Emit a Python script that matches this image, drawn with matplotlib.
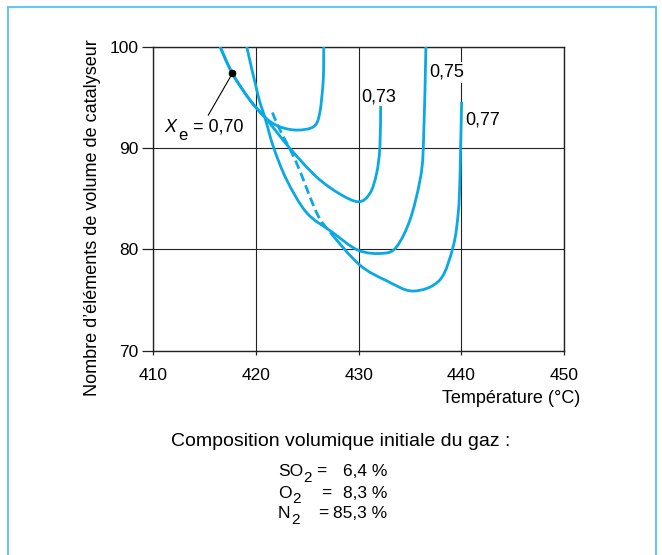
import numpy as np
import matplotlib
matplotlib.use("Agg")
import matplotlib.pyplot as plt
from matplotlib.path import Path
from matplotlib.patches import PathPatch, Rectangle

plt.rcParams['font.family'] = ['Liberation Sans', 'DejaVu Sans']

W, H, DPI = 662, 555, 100
BLUE = '#0aa8e4'
FRAME = '#5cc8f0'
FS_TICK = 12.5
FS = 13
FS_GAS = 12.5

# Catalyst volume (number of elements) versus temperature, per conversion Xe
temp_070 = [416.5, 417.7, 419.4, 420.9, 422.3, 424.0, 425.6, 426.2, 426.55, 426.6]
cat_070 = [100.0, 97.36, 94.75, 93.0, 92.1, 91.77, 92.1, 93.4, 96.7, 100.0]

temp_073 = [416.5, 417.7, 419.4, 420.9, 423.31, 425.91, 428.18, 430.0, 431.1, 431.75,
            432.07, 432.14]
cat_073 = [100.0, 97.36, 94.75, 93.0, 89.96, 87.13, 85.45, 84.69, 85.52, 87.5,
           90.1, 94.14]

temp_075 = [419.1, 420.2, 420.9, 421.7, 423.0, 424.94, 427.37, 429.96, 432.4, 433.7, 435.0,
            435.97, 436.3, 436.55]
cat_075 = [100.0, 95.2, 92.9, 90.1, 86.83, 83.6, 81.73, 79.9, 79.6, 80.25, 82.9,
           86.8, 90.1, 100.0]

# Xe = 0.77: extrapolated part (dashed) then computed part (solid)
temp_077_ext = [421.6, 422.34, 423.96, 425.91]
cat_077_ext = [93.5, 91.77, 88.5, 83.6]
temp_077 = [427.25, 430.1, 432.7, 435.3, 437.9, 439.2, 439.7, 439.86, 439.93, 440.03]
cat_077 = [81.65, 78.45, 76.9, 75.87, 76.96, 80.25, 83.6, 86.8, 90.1, 94.56]

# Point pointed at by the Xe = 0.70 label
marker_070 = (417.7, 97.36)

x_ticks = [410, 420, 430, 440, 450]
y_ticks = [70, 80, 90, 100]

gas = ['SO', 'O', 'N']
gas_pct = ['6,4 %', '8,3 %', '85,3 %']


def bezier_nodes(xs, ys):
    """Catmull-Rom curve through the nodes, expressed as cubic Bezier segments."""
    p = np.column_stack([xs, ys]).astype(float)
    ext = np.vstack([p[0], p, p[-1]])
    segs = []
    for i in range(len(p) - 1):
        p0, p1, p2, p3 = ext[i], ext[i + 1], ext[i + 2], ext[i + 3]
        segs.append((p1, p1 + (p2 - p0) / 6.0, p2 - (p3 - p1) / 6.0, p2))
    return segs


def segs_to_path(segs):
    verts = [segs[0][0]]
    codes = [Path.MOVETO]
    for s in segs:
        verts += [s[1], s[2], s[3]]
        codes += [Path.CURVE4] * 3
    return Path(np.array(verts), codes)


def draw_curve(ax, segs, ls='-'):
    patch = PathPatch(segs_to_path(segs), fill=False, edgecolor=BLUE, lw=2.0,
                      linestyle=ls, capstyle='butt', joinstyle='round',
                      transform=ax.transData, zorder=3)
    ax.add_patch(patch)


fig = plt.figure(figsize=(W / DPI, H / DPI), dpi=DPI)

# Outer light-blue frame
fig.add_artist(Rectangle((8.3 / W, -0.05), (655.5 - 8.3) / W, 1 - 6.7 / H + 0.05,
                         transform=fig.transFigure, fill=False, ec=FRAME, lw=1.4))

ax = fig.add_axes([153.3 / W, 1 - 350.5 / H, (564 - 153.3) / W, (350.5 - 46.7) / H])
ax.set_xlim(410, 450)
ax.set_ylim(70, 100)
ax.set_xticks(x_ticks)
ax.set_yticks(y_ticks)
ax.set_xticklabels([str(v) for v in x_ticks])
ax.set_yticklabels([str(v) for v in y_ticks])
ax.grid(True, color='#222222', lw=0.8, zorder=1)
ax.set_axisbelow(True)
for s in ax.spines.values():
    s.set_linewidth(1.0)
    s.set_color('#222222')
ax.tick_params(axis='y', direction='out', length=7.7, width=0.9, pad=3.0,
               labelsize=FS_TICK, color='#222222')
ax.tick_params(axis='x', direction='out', length=3.0, width=0.9, pad=9.6,
               labelsize=FS_TICK, color='#222222')

draw_curve(ax, bezier_nodes(temp_070, cat_070))
draw_curve(ax, bezier_nodes(temp_073, cat_073))
draw_curve(ax, bezier_nodes(temp_075, cat_075))
segs77 = bezier_nodes(temp_077_ext + temp_077, cat_077_ext + cat_077)
n_ext = len(temp_077_ext)
draw_curve(ax, segs77[:n_ext], ls=(0, (3.2, 1.6)))
draw_curve(ax, segs77[n_ext:])

# Curve labels
ax.text(430.25, 94.56, '0,73', fontsize=FS, ha='left', va='baseline', zorder=4)
ax.text(436.9, 97.03, '0,75', fontsize=FS, ha='left', va='baseline', zorder=4,
        bbox=dict(boxstyle='square,pad=0.12', fc='white', ec='none'))
ax.text(440.4, 92.33, '0,77', fontsize=FS, ha='left', va='baseline', zorder=4)

# Xe = 0,70 label with leader line to the marker
ax.plot([marker_070[0], 415.36], [marker_070[1], 93.25], color='black', lw=0.8, zorder=4)
ax.plot([marker_070[0]], [marker_070[1]], 'o', color='black', ms=4.5, zorder=5)
ax.text(411.1, 91.6, 'X', fontsize=FS, style='italic', ha='left', va='baseline', zorder=4)
ax.text(412.45, 90.83, 'e', fontsize=12, ha='left', va='baseline', zorder=4)
ax.text(413.9, 91.6, '= 0,70', fontsize=FS, ha='left', va='baseline', zorder=4)


def ftext(px, py, s, **kw):
    kw.setdefault('fontsize', FS)
    kw.setdefault('va', 'baseline')
    fig.text(px / W, 1 - py / H, s, **kw)


ftext(580.5, 402.7, 'Température (°C)', ha='right')
ftext(93, 217.5, 'Nombre d\u2019éléments de volume de catalyseur', rotation=90,
      ha='center', va='center')
ftext(340.5, 446.5, 'Composition volumique initiale du gaz :', ha='center', fontsize=14)

# Gas composition block
base_y = [476.0, 497.5, 518.0]
sub_x = [303.5, 292.5, 291.5]
eq_x = [316.5, 321.5, 318.0]
for name, pct, by, sx, ex in zip(gas, gas_pct, base_y, sub_x, eq_x):
    ftext(278.0, by, name, ha='left', fontsize=FS_GAS)
    ftext(sx, by + 5.5, '2', ha='left', fontsize=11)
    ftext(ex, by, '=', ha='left', fontsize=FS_GAS)
    ftext(387.3, by, pct, ha='right', fontsize=FS_GAS)

fig.savefig('out.png', dpi=DPI)
